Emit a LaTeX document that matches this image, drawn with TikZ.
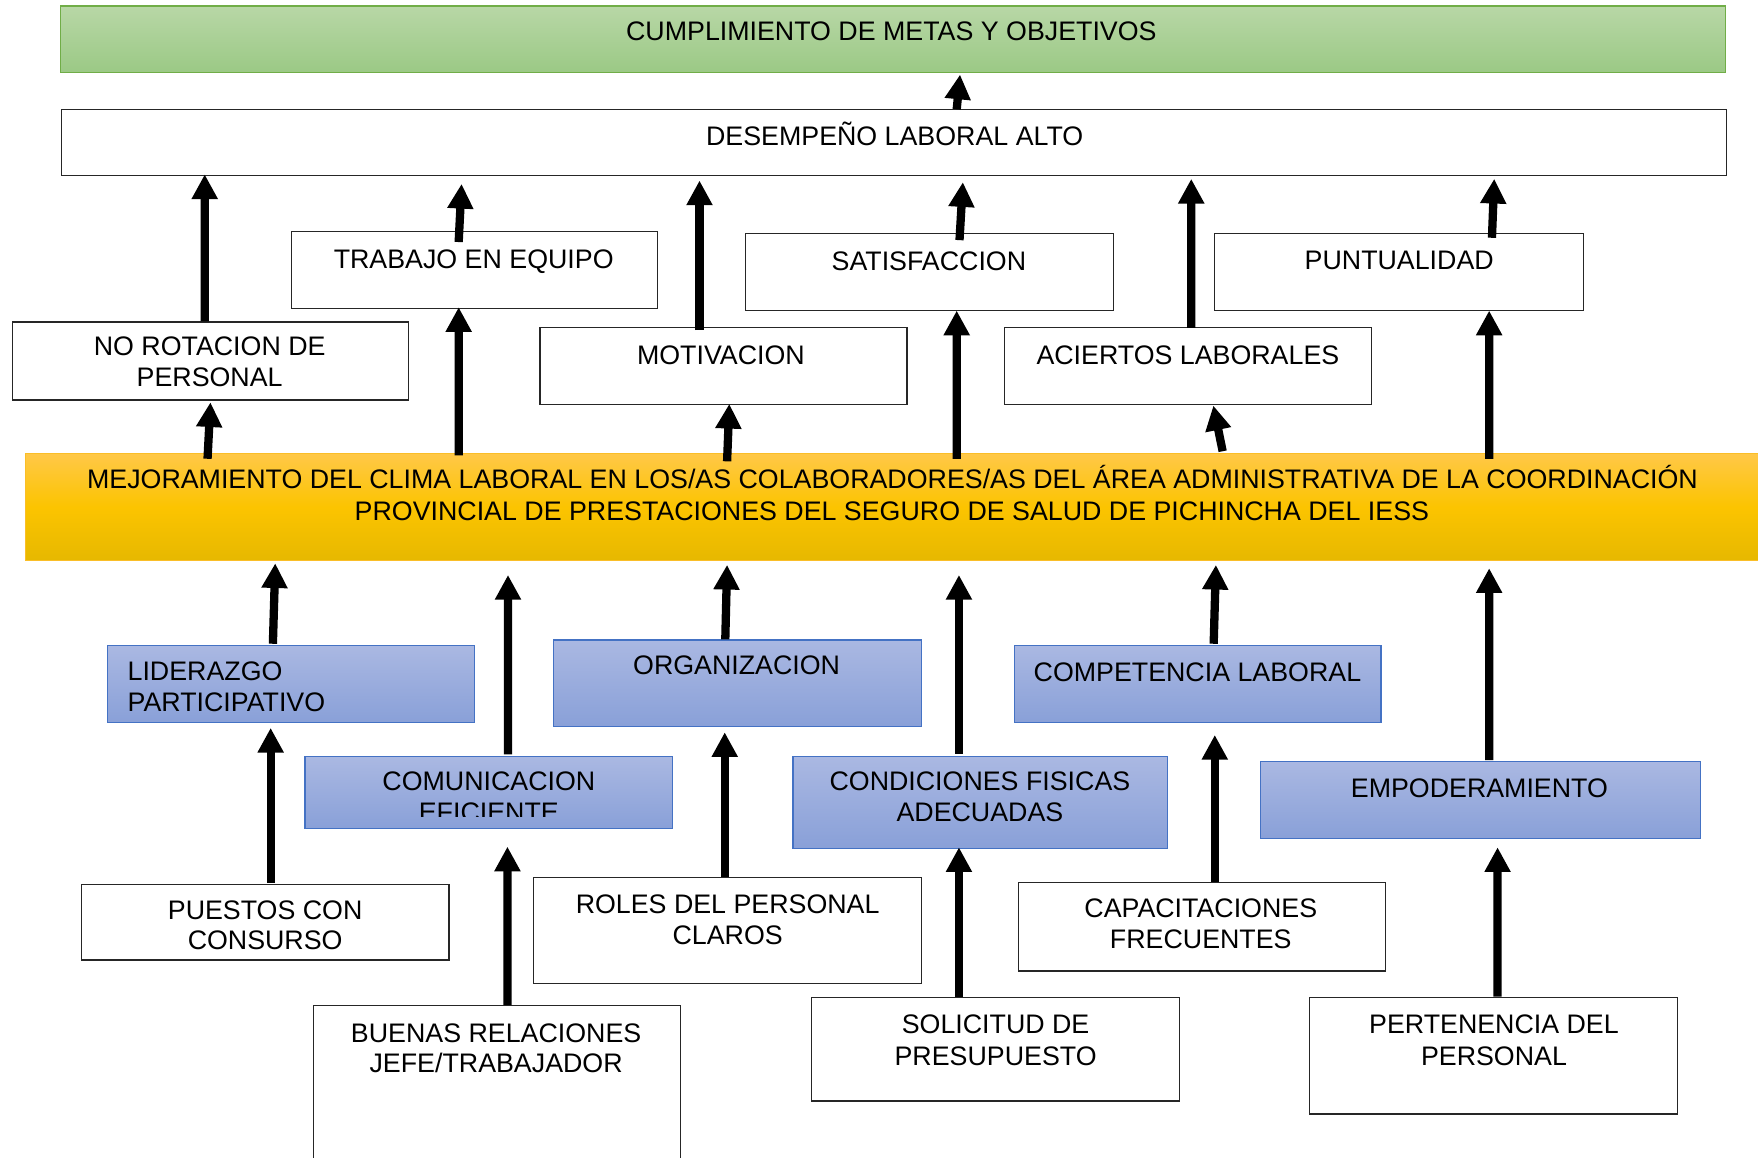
\documentclass[tikz,border=0pt]{standalone}
\usepackage{fontspec}
\setmainfont{Liberation Sans}
\usetikzlibrary{fit,arrows.meta}
\definecolor{grT}{RGB}{184,215,166}
\definecolor{grBo}{RGB}{155,201,133}
\definecolor{grB}{RGB}{112,173,71}
\definecolor{yT}{RGB}{255,200,72}
\definecolor{yM}{RGB}{252,196,0}
\definecolor{yBo}{RGB}{230,184,0}
\definecolor{yB}{RGB}{250,190,40}
\definecolor{bT}{RGB}{170,184,226}
\definecolor{bBo}{RGB}{137,160,216}
\definecolor{bB}{RGB}{68,114,196}
\begin{document}
\begin{tikzpicture}[x=0.02cm,y=-0.02cm,
  wbox/.style={draw=black!85, line width=0.6pt, fill=white, inner sep=0pt},
  gbox/.style={draw=grB, line width=0.6pt, top color=grT, bottom color=grBo, inner sep=0pt},
  ybox/.style={draw=yB, line width=0.6pt, top color=yT, bottom color=yBo, middle color=yM, inner sep=0pt},
  bbox/.style={draw=bB, line width=0.6pt, top color=bT, bottom color=bBo, inner sep=0pt},
  txt/.style={inner sep=0pt, anchor=base, font=\fontsize{13.6}{16}\selectfont},
  arr/.style={line width=0.148cm, -{Triangle[length=0.44cm,width=0.44cm]}}]
\useasboundingbox (0,0) rectangle (1568,1032);

% boxes
\node[gbox, fit={(54,5.4) (1539,64.5)}] (green) {};
\node[wbox, fit={(55,98) (1540,156.7)}] (des) {};
\node[wbox, fit={(11.2,287.2) (364,356.8)}] (noRot) {};
\node[wbox, fit={(259.8,206.3) (586.6,275)}] (trab) {};
\node[wbox, fit={(481.7,292) (809,360.6)}] (motiv) {};
\node[wbox, fit={(664.8,208.1) (993.1,276.8)}] (satis) {};
\node[wbox, fit={(895.7,292) (1223.4,360.6)}] (acier) {};
\node[wbox, fit={(1083.5,208.1) (1412.6,276.8)}] (punt) {};
\node[ybox, fit={(23,404.3) (1575,500.1)}] (yel) {};
\node[bbox, fit={(96.1,575.6) (423.5,644.6)}] (lid) {};
\node[bbox, fit={(493.5,570.8) (821.8,648.1)}] (org) {};
\node[bbox, fit={(904.7,575.6) (1231.8,644.2)}] (comp) {};
\node[bbox, fit={(272,674.9) (599.9,739.1)}] (comun) {};
\node[bbox, fit={(707.3,674.9) (1041.5,756.6)}] (cond) {};
\node[bbox, fit={(1124.4,679) (1516.5,747.7)}] (empod) {};
\node[wbox, fit={(72.6,788.7) (400.5,856.2)}] (puest) {};
\node[wbox, fit={(475.6,782.8) (821.8,877.3)}] (roles) {};
\node[wbox, fit={(279.7,897) (607,1045)}] (buenas) {};
\node[wbox, fit={(908.2,787) (1235.8,866)}] (capac) {};
\node[wbox, fit={(723.7,889.8) (1052,982)}] (solic) {};
\node[wbox, fit={(1167.9,889.8) (1496,993.6)}] (perten) {};

% arrows
\draw[arr] ([shift={(55.8,0)}]des.north) -- ([shift={(59.8,1.5)}]green.south);
\draw[arr] ([shift={(-5,0)}]noRot.north) -- ([shift={(-614.9,-1.7)}]des.south);
\draw[arr] ([shift={(-14.1,10.1)}]trab.north) -- ([shift={(-385.8,6.8)}]des.south);
\draw[arr] ([shift={(-21.45,3)}]motiv.north) -- ([shift={(-173.6,3.8)}]des.south);
\draw[arr] ([shift={(26.85,6.6)}]satis.north) -- ([shift={(61.3,5.3)}]des.south);
\draw[arr] ([shift={(2.95,0.9)}]acier.north) -- ([shift={(265,2.3)}]des.south);
\draw[arr] ([shift={(82.65,4.5)}]punt.north) -- ([shift={(535.2,2.3)}]des.south);
\draw[arr] ([shift={(-613.9,5.4)}]yel.north) -- ([shift={(0.1,1.5)}]noRot.south);
\draw[arr] ([shift={(-389.9,2.4)}]yel.north) -- ([shift={(-14.1,-1.5)}]trab.south);
\draw[arr] ([shift={(-150.5,7.7)}]yel.north) -- ([shift={(5.15,-0.9)}]motiv.south);
\draw[arr] ([shift={(54.3,5.4)}]yel.north) -- ([shift={(24.35,-0.3)}]satis.south);
\draw[arr] ([shift={(291.5,-1.3)}]yel.north) -- ([shift={(22.65,0.6)}]acier.south);
\draw[arr] ([shift={(529.2,5.4)}]yel.north) -- ([shift={(80.15,-0.3)}]punt.south);
\draw[arr] ([shift={(-16.4,-0.9)}]lid.north) -- ([shift={(-553.5,1.8)}]yel.south);
\draw[arr] ([shift={(17.15,-1.5)}]comun.north) -- ([shift={(-345.9,12.2)}]yel.south);
\draw[arr] ([shift={(-10.75,0)}]org.north) -- ([shift={(-150.5,3.2)}]yel.south);
\draw[arr] ([shift={(-19.1,-2.1)}]cond.north) -- ([shift={(56.3,12.2)}]yel.south);
\draw[arr] ([shift={(14.25,-0.9)}]comp.north) -- ([shift={(285.5,3.2)}]yel.south);
\draw[arr] ([shift={(7.75,-0.5)}]empod.north) -- ([shift={(529.2,6.2)}]yel.south);
\draw[arr] ([shift={(4.85,-0.9)}]puest.north) -- ([shift={(-18.4,4.1)}]lid.south);
\draw[arr] ([shift={(9.25,0)}]buenas.north) -- ([shift={(16.65,15.5)}]comun.south);
\draw[arr] ([shift={(-2.3,0)}]roles.north) -- ([shift={(-11.25,4.5)}]org.south);
\draw[arr] ([shift={(-32.55,-0.3)}]solic.north) -- ([shift={(-19.1,-1.4)}]cond.south);
\draw[arr] ([shift={(11.5,0)}]capac.north) -- ([shift={(15.25,10.8)}]comp.south);
\draw[arr] ([shift={(3.75,-0.3)}]perten.north) -- ([shift={(15.25,7.5)}]empod.south);

% texts
\node[txt] (tG) at (795,36.3) {CUMPLIMIENTO DE METAS Y OBJETIVOS};
\node[txt] (tD) at (798,130) {DESEMPEÑO LABORAL ALTO};
\node[txt] (tNR1) at (187,317.5) {NO ROTACION DE};
\node[txt] (tNR2) at (187,345) {PERSONAL};
\node[txt] (tTR) at (422.5,239.3) {TRABAJO EN EQUIPO};
\node[txt] (tMO) at (643,324.8) {MOTIVACION};
\node[txt] (tSA) at (828.5,241.5) {SATISFACCION};
\node[txt] (tAC) at (1059.5,324.7) {ACIERTOS LABORALES};
\node[txt] (tPU) at (1248,240.8) {PUNTUALIDAD};
\node[txt] (tY1) at (796,436.1) {MEJORAMIENTO DEL CLIMA LABORAL EN LOS/AS COLABORADORES/AS DEL ÁREA ADMINISTRATIVA DE LA COORDINACIÓN};
\node[txt] (tY2) at (795.5,464.4) {PROVINCIAL DE PRESTACIONES DEL SEGURO DE SALUD DE PICHINCHA DEL IESS};
\node[txt, anchor=base west] (tLI1) at (113.5,607.1) {LIDERAZGO};
\node[txt, anchor=base west] (tLI2) at (113.5,634.7) {PARTICIPATIVO};
\node[txt] (tOR) at (657,602) {ORGANIZACION};
\node[txt] (tCO) at (1068,607.4) {COMPETENCIA LABORAL};
\node[txt] (tCM1) at (436,705.2) {COMUNICACION};
\begin{scope}
\clip (272,674.9) rectangle (600,728.4);
\node[txt] (tCM2) at (436,733) {EFICIENTE};
\end{scope}
\node[txt] (tCD1) at (874,705.2) {CONDICIONES FISICAS};
\node[txt] (tCD2) at (874,732.8) {ADECUADAS};
\node[txt] (tEM) at (1319.5,711.4) {EMPODERAMIENTO};
\node[txt] (tPC1) at (236.5,819.7) {PUESTOS CON};
\node[txt] (tPC2) at (236.5,847.3) {CONSURSO};
\node[txt] (tRO1) at (649,815.2) {ROLES DEL PERSONAL};
\node[txt] (tRO2) at (649,842) {CLAROS};
\node[txt] (tCA1) at (1071,818.2) {CAPACITACIONES};
\node[txt] (tCA2) at (1071,845.8) {FRECUENTES};
\node[txt] (tBU1) at (442.5,929.7) {BUENAS RELACIONES};
\node[txt] (tBU2) at (442.5,956.4) {JEFE/TRABAJADOR};
\node[txt] (tSO1) at (888,921.6) {SOLICITUD DE};
\node[txt] (tSO2) at (888,949.9) {PRESUPUESTO};
\node[txt] (tPE1) at (1332.5,921.6) {PERTENENCIA DEL};
\node[txt] (tPE2) at (1332.5,949.9) {PERSONAL};
\end{tikzpicture}
\end{document}
